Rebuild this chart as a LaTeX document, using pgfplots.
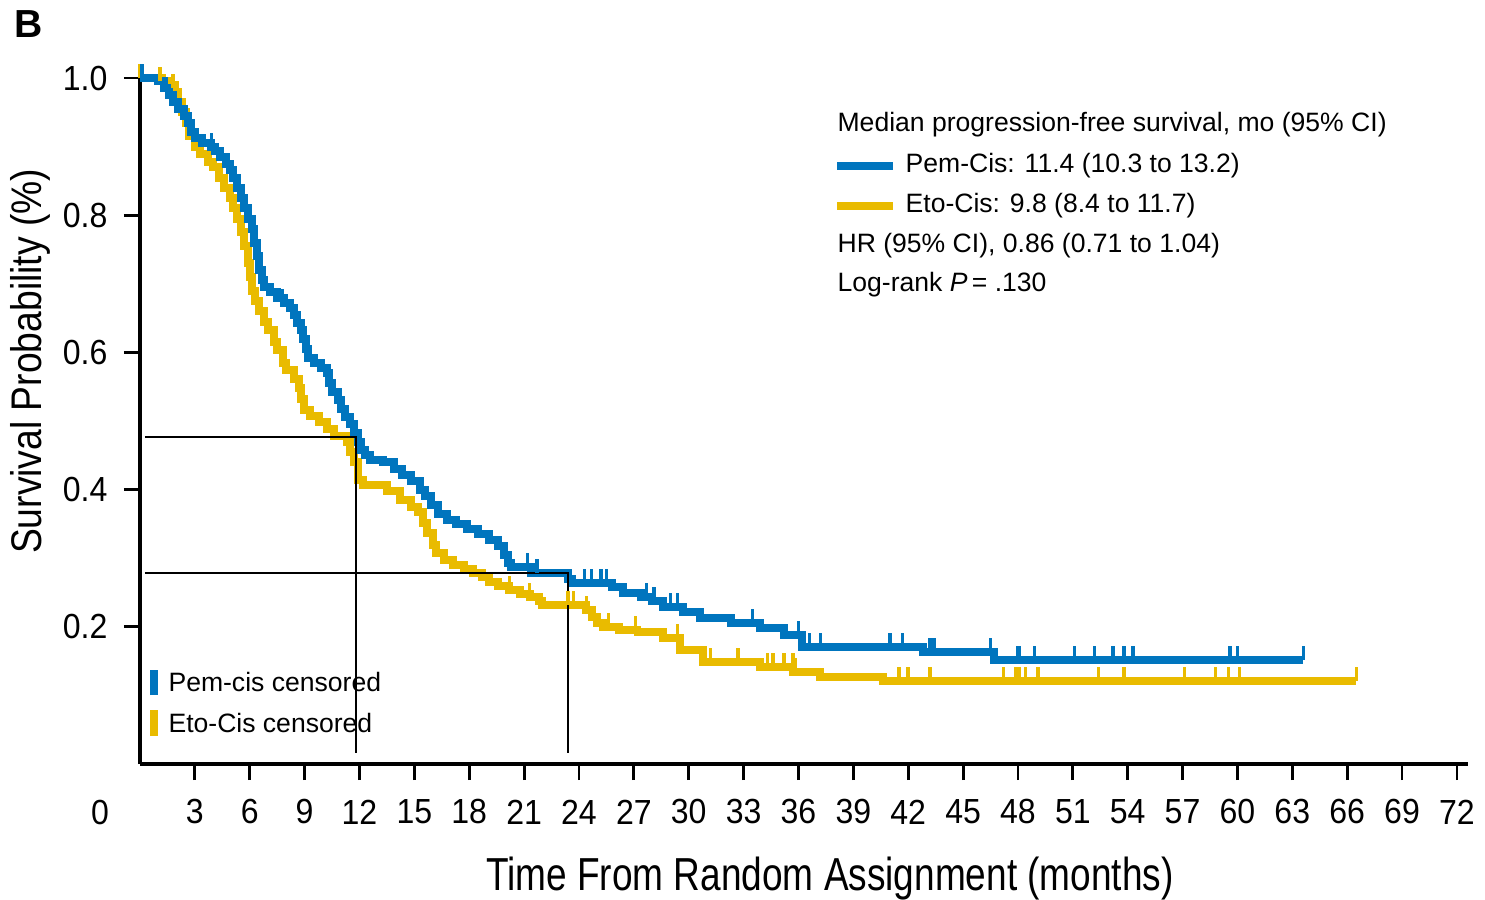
\documentclass[border=0pt]{standalone}
\usepackage{pgfplots}
\pgfplotsset{compat=1.18}
\usepackage{pgfplotstable}
\usepackage{fontspec}
\setmainfont{Liberation Sans}
\newfontfamily\tickfont[FakeStretch=0.92]{Liberation Sans}
\newfontfamily\labfont[FakeStretch=0.8]{Liberation Sans}
\newfontfamily\ylabfont[FakeStretch=0.87]{Liberation Sans}
\definecolor{pemblue}{RGB}{0,117,190}
\definecolor{etoyellow}{RGB}{233,187,0}
\pgfdeclareplotmark{cens}{\pgfpathmoveto{\pgfpointorigin}\pgfpathlineto{\pgfpoint{0pt}{4.9pt}}\pgfusepathqstroke}

\pgfplotstableread{
t S
0 1.0
1.0 0.995
1.3 0.985
1.6 0.975
1.8 0.965
2.1 0.955
2.4 0.945
2.6 0.935
2.8 0.922
3.0 0.912
3.4 0.905
3.9 0.900
4.1 0.893
4.4 0.885
4.7 0.875
4.9 0.866
5.1 0.855
5.3 0.84
5.5 0.825
5.7 0.81
5.9 0.795
6.1 0.78
6.25 0.76
6.4 0.74
6.5 0.72
6.65 0.705
6.8 0.695
7.1 0.688
7.5 0.68
7.9 0.672
8.2 0.665
8.4 0.655
8.6 0.643
8.8 0.632
8.9 0.62
9.05 0.605
9.2 0.592
9.5 0.585
9.9 0.578
10.2 0.57
10.35 0.556
10.5 0.542
10.8 0.53
11.0 0.518
11.2 0.506
11.5 0.495
11.7 0.482
11.9 0.47
12.1 0.458
12.3 0.45
12.6 0.443
13.3 0.44
13.9 0.43
14.3 0.422
14.8 0.412
15.3 0.40
15.6 0.39
15.9 0.378
16.3 0.365
16.8 0.356
17.3 0.35
17.9 0.342
18.5 0.335
19.1 0.327
19.6 0.318
19.9 0.305
20.1 0.293
20.3 0.287
21.4 0.279
23.4 0.27
23.6 0.264
25.8 0.258
26.4 0.249
27.4 0.243
28.0 0.238
28.6 0.229
29.7 0.222
30.6 0.213
32.3 0.205
33.9 0.198
35.2 0.188
36.2 0.171
42.8 0.163
46.7 0.152
63.6 0.152
}\pemdata

\pgfplotstableread{
t S
0 1.0
1.2 0.995
1.5 0.99
1.9 0.98
2.1 0.965
2.3 0.95
2.5 0.935
2.7 0.915
3.0 0.90
3.3 0.89
3.7 0.878
4.0 0.87
4.3 0.855
4.6 0.84
4.9 0.825
5.1 0.81
5.3 0.795
5.5 0.775
5.7 0.755
5.9 0.73
6.0 0.71
6.1 0.69
6.3 0.675
6.5 0.66
6.8 0.645
7.0 0.632
7.3 0.615
7.5 0.603
7.8 0.585
8.0 0.574
8.4 0.562
8.7 0.548
8.8 0.532
8.95 0.516
9.3 0.508
9.8 0.498
10.2 0.488
10.6 0.478
11.3 0.47
11.5 0.455
11.7 0.44
11.9 0.414
12.2 0.407
13.5 0.398
14.2 0.385
14.8 0.375
15.2 0.368
15.5 0.352
15.7 0.337
16.0 0.32
16.2 0.307
16.6 0.297
17.1 0.29
17.7 0.284
18.2 0.278
18.7 0.272
19.1 0.265
19.6 0.26
20.2 0.254
20.8 0.248
21.3 0.243
21.8 0.237
22.0 0.232
24.4 0.225
24.7 0.215
25.0 0.205
25.3 0.20
26.2 0.196
27.2 0.192
28.6 0.183
29.5 0.166
30.8 0.149
33.9 0.141
35.7 0.134
37.2 0.127
40.6 0.121
66.5 0.121
}\etodata

\pgfplotstableread{
t S
0.1 1.0
3.9 0.9
7.8 0.672
21.2 0.287
21.7 0.279
24.3 0.264
24.7 0.264
25.2 0.264
25.5 0.264
27.7 0.243
28.1 0.238
29.0 0.229
29.4 0.229
33.5 0.205
36.0 0.188
36.6 0.171
37.2 0.171
41.0 0.171
41.7 0.171
43.2 0.163
43.4 0.163
46.5 0.163
48.0 0.152
48.1 0.152
48.9 0.152
51.1 0.152
52.2 0.152
53.2 0.152
53.8 0.152
54.3 0.152
59.6 0.152
60.0 0.152
63.6 0.152
}\pemcens

\pgfplotstableread{
t S
0.0 1.0
1.1 0.995
1.8 0.985
20.2 0.254
21.3 0.243
23.4 0.232
23.7 0.232
24.4 0.225
25.6 0.20
27.1 0.196
29.4 0.183
31.2 0.149
32.7 0.149
34.3 0.141
34.6 0.141
35.2 0.141
35.7 0.141
35.8 0.134
41.5 0.121
42.0 0.121
43.2 0.121
47.2 0.121
47.9 0.121
48.1 0.121
48.4 0.121
49.1 0.121
52.4 0.121
53.8 0.121
57.1 0.121
58.8 0.121
59.5 0.121
60.1 0.121
66.5 0.121
}\etocens

\begin{document}
\begin{tikzpicture}
\begin{axis}[
  scale only axis, width=465pt, height=240.2pt,
  xmin=0, xmax=72.6, ymin=0, ymax=1.0,
  axis lines=left, axis line style={-, line width=1.4pt, black},
  clip=false,
  xtick={3,6,...,72},
  ytick={0.2,0.4,0.6,0.8,1.0}, yticklabels={0.2,0.4,0.6,0.8,1.0},
  tick align=outside, major tick length=5.6pt,
  tick style={line width=1pt, black},
  /pgf/number format/assume math mode=true,
  ticklabel style={font=\tickfont\fontsize{12.2}{14}\selectfont},
  xticklabel style={anchor=center, yshift=-11.2pt},
  yticklabel style={anchor=east, inner sep=0pt, xshift=-5.6pt},
]
\addplot[const plot, color=etoyellow, line width=2.8pt] table[x=t,y=S]{\etodata};
\addplot[only marks, mark=cens, color=etoyellow, mark options={line width=1.2pt}] table[x=t,y=S]{\etocens};
\addplot[const plot, color=pemblue, line width=2.8pt] table[x=t,y=S]{\pemdata};
\addplot[only marks, mark=cens, color=pemblue, mark options={line width=1.2pt}] table[x=t,y=S]{\pemcens};
% median reference lines
\addplot[black, line width=0.7pt] coordinates {(0.27,0.4767) (11.81,0.4767) (11.81,0.016)};
\addplot[black, line width=0.7pt] coordinates {(0.27,0.2784) (23.4,0.2784) (23.4,0.016)};
\coordinate (O) at (axis cs:0,0);
% legend text (top right)
\node[anchor=west, inner sep=0pt, font=\fontsize{9.3}{11}\selectfont] at (axis cs:38.11,0.9315) {Median progression-free survival, mo (95\% CI)};
\draw[pemblue, line width=2.8pt] (axis cs:38.11,0.8717) -- (axis cs:41.17,0.8717);
\node[anchor=west, inner sep=0pt, font=\fontsize{9.3}{11}\selectfont] at (axis cs:41.83,0.8717) {Pem-Cis: 11.4 (10.3 to 13.2)};
\draw[etoyellow, line width=2.8pt] (axis cs:38.11,0.8134) -- (axis cs:41.17,0.8134);
\node[anchor=west, inner sep=0pt, font=\fontsize{9.3}{11}\selectfont] at (axis cs:41.83,0.8134) {Eto-Cis: 9.8 (8.4 to 11.7)};
\node[anchor=west, inner sep=0pt, font=\fontsize{9.3}{11}\selectfont] at (axis cs:38.11,0.7551) {HR (95\% CI), 0.86 (0.71 to 1.04)};
\node[anchor=west, inner sep=0pt, font=\fontsize{9.3}{11}\selectfont] at (axis cs:38.11,0.6983) {Log-rank \textit{P}\,= .130};
% censored legend (bottom left)
\draw[pemblue, line width=2.8pt] (axis cs:0.77,0.1006) -- (axis cs:0.77,0.137);
\node[anchor=west, inner sep=0pt, font=\fontsize{9.3}{11}\selectfont] at (axis cs:1.53,0.1195) {Pem-cis censored};
\draw[etoyellow, line width=2.8pt] (axis cs:0.77,0.0408) -- (axis cs:0.77,0.0787);
\node[anchor=west, inner sep=0pt, font=\fontsize{9.3}{11}\selectfont] at (axis cs:1.53,0.0598) {Eto-Cis censored};
% axis labels
\node[anchor=center, inner sep=0pt, font=\labfont\fontsize{16.2}{18}\selectfont] at (axis cs:37.72,-0.1665) {Time From Random Assignment (months)};
\node[anchor=center, inner sep=0pt, rotate=90, font=\ylabfont\fontsize{15}{17}\selectfont] at (axis cs:-6.01,0.587) {Survival Probability (\%)};
\node[anchor=center, inner sep=0pt, font=\tickfont\fontsize{12.2}{14}\selectfont] at (axis cs:-2.19,-0.07) {0};
\node[anchor=north west, inner sep=0pt, font=\bfseries\fontsize{13.7}{15}\selectfont] at (axis cs:-6.89,1.099) {B};
\end{axis}
\path (O) ++(-49.02pt,-46.57pt) rectangle ++(520pt,314.1pt);
\end{tikzpicture}
\end{document}
